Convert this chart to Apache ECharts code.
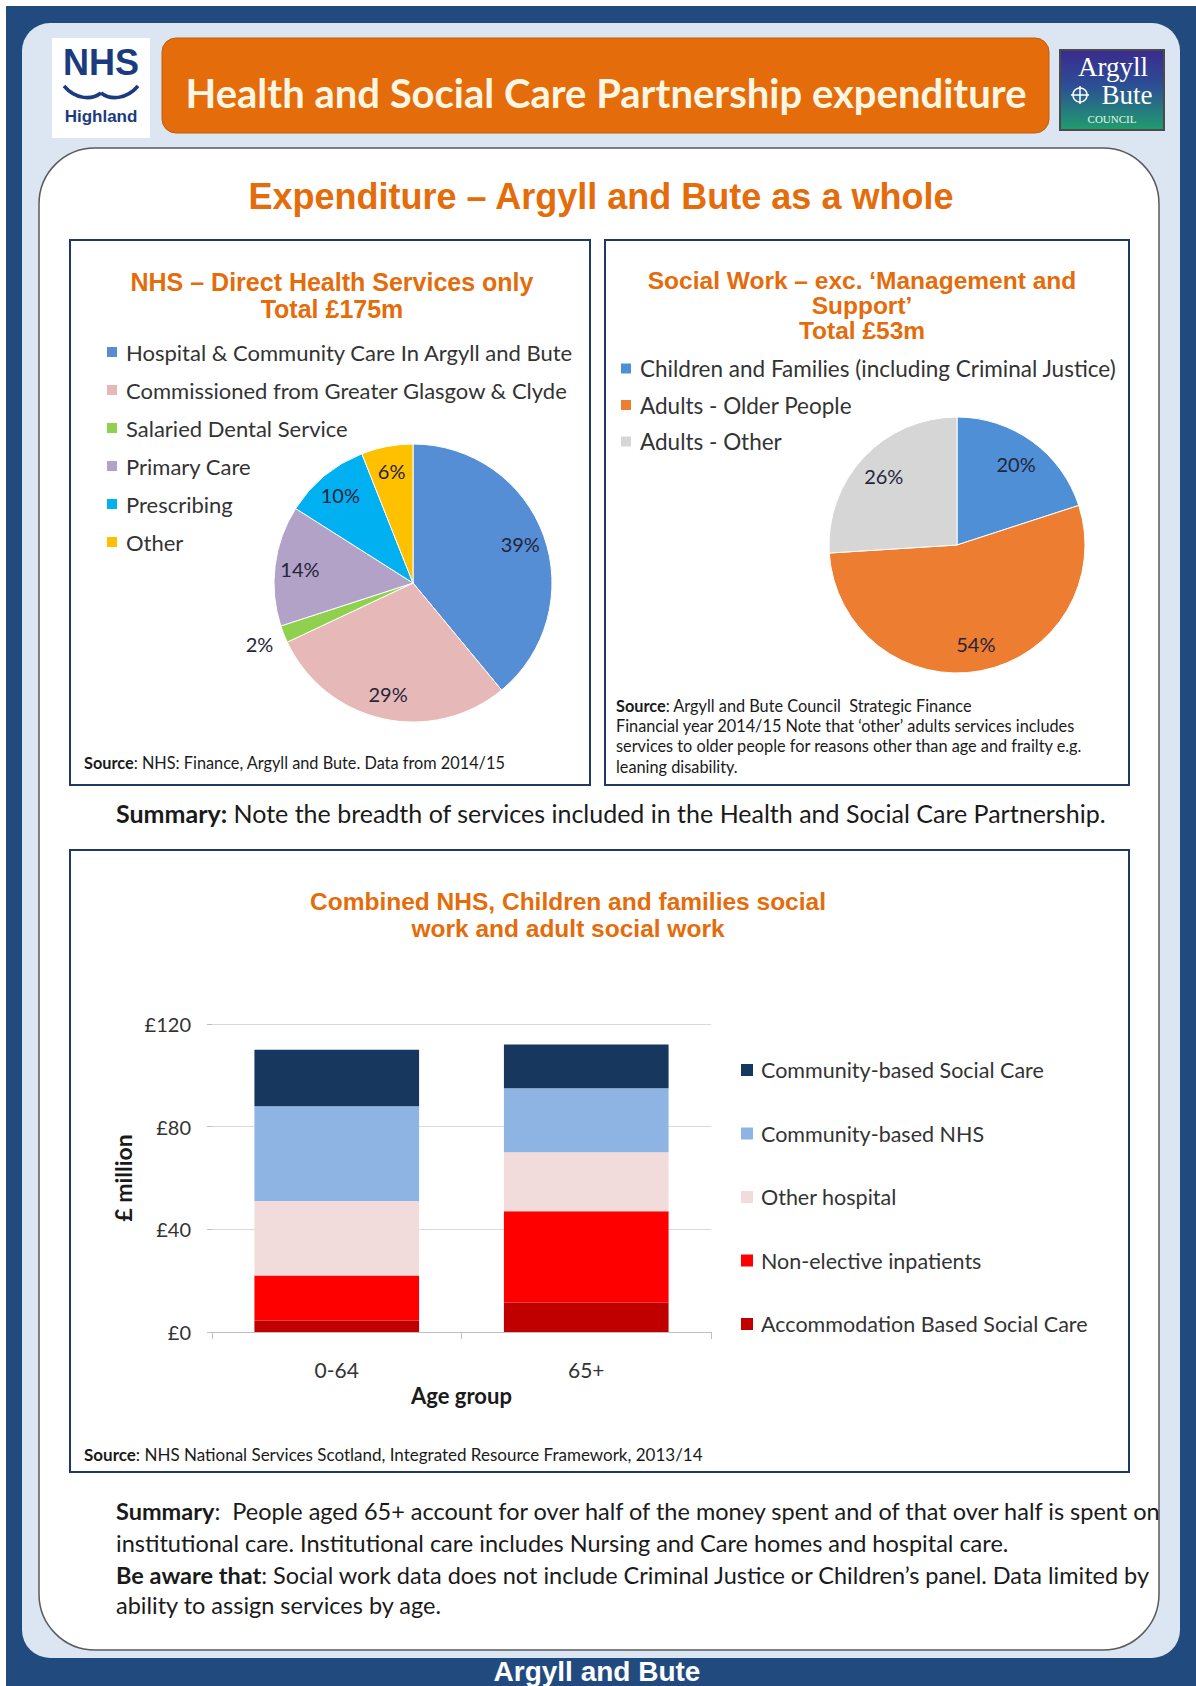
<!DOCTYPE html>
<html><head><meta charset="utf-8">
<script src="https://cdn.jsdelivr.net/npm/echarts@6/dist/echarts.min.js"></script>
<style>html,body{margin:0;padding:0;background:#fff}#c{width:1196px;height:1686px}</style>
</head><body><div id="c"></div>
<script>
// ---------- data ----------
const nhsCategories = ['Hospital & Community Care In Argyll and Bute','Commissioned from Greater Glasgow & Clyde','Salaried Dental Service','Primary Care','Prescribing','Other'];
const nhsShares = [39, 29, 2, 14, 10, 6];
const swCategories = ['Children and Families (including Criminal Justice)','Adults - Older People','Adults - Other'];
const swShares = [20, 54, 26];
const ageGroups = ['0-64', '65+'];
const accommodationSocialCare = [4.5, 11.5];
const nonElectiveInpatients = [17.5, 35.5];
const otherHospital = [29, 23];
const communityNHS = [37, 25];
const communitySocialCare = [22, 17];
const barLegendOrder = ['Community-based Social Care','Community-based NHS','Other hospital','Non-elective inpatients','Accommodation Based Social Care'];
const yTicks = [0, 40, 80, 120];

// ---------- styles ----------
const nhsColors = ['#558ed5','#e6b9b8','#8fd14f','#b3a2c7','#00b0f0','#ffc000'];
const swColors = ['#4f8fd6','#ed7d31','#d6d6d6'];
const BODY = 'Lato';
const HEAD = 'Liberation Sans';
const ORANGE = '#e46c0a';

function txt(x, y, text, o) {
  o = o || {};
  const st = Object.assign({
    text: text, x: x, y: y,
    fill: o.fill || '#1a1a1a',
    fontSize: o.size || 20, fontWeight: o.weight || 'normal', fontFamily: o.family || BODY,
    align: o.align || 'left', textAlign: o.align || 'left',
    verticalAlign: 'middle', textVerticalAlign: 'middle'
  }, o.extra || {});
  if (o.rich) st.rich = o.rich;
  return { type: 'text', z: 5, silent: true, style: st };
}
function richB(size, family) {
  return { b: { fontWeight: 'bold', fontSize: size, fontFamily: family || BODY, fill: '#1a1a1a', color: '#1a1a1a' },
           n: { fontWeight: 'normal', fontSize: size, fontFamily: family || BODY, fill: '#1a1a1a', color: '#1a1a1a' } };
}
function rect(x, y, w, h, fill, o) {
  o = o || {};
  return { type: 'rect', z: o.z != null ? o.z : 0, silent: true,
    shape: { x: x, y: y, width: w, height: h, r: o.r || 0 },
    style: { fill: fill, stroke: o.stroke || null, lineWidth: o.lw || 0 } };
}
const titleOpt = (size) => ({ size: size, weight: 'bold', family: HEAD, fill: ORANGE, align: 'center' });

const graphics = [
  rect(6, 6, 1190, 1680, '#214b7f', {z: -10}),
  rect(22, 23, 1158, 1635, '#dce6f2', {z: -9, r: 28}),
  rect(52, 38, 98, 100, '#ffffff', {z: -8}),
  rect(162, 38, 887, 95, ORANGE, {z: -8, r: 14, stroke: '#c45a08', lw: 1}),
  { type: 'rect', z: -8, silent: true, shape: { x: 1060, y: 50, width: 104, height: 80 },
    style: { fill: { type: 'linear', x: 0, y: 0, x2: 0, y2: 1, colorStops: [
      { offset: 0, color: '#3b2a8e' }, { offset: 0.45, color: '#2c4f95' }, { offset: 1, color: '#1f9e6c' }] },
      stroke: '#4a4a4a', lineWidth: 2 } },
  rect(39, 148, 1120, 1502, '#ffffff', {z: -7, r: 56, stroke: '#5a5a5a', lw: 1.5}),
  rect(70, 240, 520, 545, '#ffffff', {z: -6, stroke: '#1f3864', lw: 2}),
  rect(605, 240, 524, 545, '#ffffff', {z: -6, stroke: '#1f3864', lw: 2}),
  rect(70, 850, 1059, 622, '#ffffff', {z: -6, stroke: '#1f3864', lw: 2}),
  // NHS logo
  txt(101, 62, 'NHS', {size: 36, weight: 'bold', family: HEAD, fill: '#1b3b80', align: 'center'}),
  { type: 'bezierCurve', z: 5, silent: true, shape: { x1: 64, y1: 86, cpx1: 76, cpy1: 100, cpx2: 92, cpy2: 100, x2: 101, y2: 93 },
    style: { stroke: '#1b3b80', lineWidth: 3.5, fill: null } },
  { type: 'bezierCurve', z: 5, silent: true, shape: { x1: 101, y1: 93, cpx1: 110, cpy1: 100, cpx2: 126, cpy2: 100, x2: 138, y2: 86 },
    style: { stroke: '#1b3b80', lineWidth: 3.5, fill: null } },
  txt(101, 116, 'Highland', {size: 17, weight: 'bold', family: HEAD, fill: '#1b3b80', align: 'center'}),
  // Argyll & Bute logo
  txt(1113, 67, 'Argyll', {size: 27, family: 'Liberation Serif', fill: '#ffffff', align: 'center'}),
  txt(1127, 95, 'Bute', {size: 27, family: 'Liberation Serif', fill: '#ffffff', align: 'center'}),
  { type: 'circle', z: 5, silent: true, shape: { cx: 1080, cy: 95, r: 7 }, style: { fill: null, stroke: '#ffffff', lineWidth: 1.5 } },
  { type: 'line', z: 5, silent: true, shape: { x1: 1080, y1: 86, x2: 1080, y2: 104 }, style: { stroke: '#ffffff', lineWidth: 1.5 } },
  { type: 'line', z: 5, silent: true, shape: { x1: 1071, y1: 95, x2: 1089, y2: 95 }, style: { stroke: '#ffffff', lineWidth: 1.5 } },
  txt(1112, 119, 'COUNCIL', {size: 11, family: 'Liberation Serif', fill: '#e8f6ea', align: 'center'}),
  // headings
  txt(606, 93, 'Health and Social Care Partnership expenditure', {size: 40, weight: 'bold', fill: '#fdf6e3', align: 'center'}),
  txt(601, 196, 'Expenditure \u2013 Argyll and Bute as a whole', titleOpt(36)),
  txt(332, 282, 'NHS \u2013 Direct Health Services only', titleOpt(25)),
  txt(332, 309, 'Total \u00a3175m', titleOpt(25)),
  txt(862, 280, 'Social Work \u2013 exc. \u2018Management and', titleOpt(24.5)),
  txt(862, 305, 'Support\u2019', titleOpt(24.5)),
  txt(862, 330, 'Total \u00a353m', titleOpt(24.5)),
  txt(568, 901, 'Combined NHS, Children and families social', titleOpt(24.5)),
  txt(568, 928, 'work and adult social work', titleOpt(24.5)),
  // sources
  txt(84, 762, '{b|Source}{n|: NHS: Finance, Argyll and Bute. Data from 2014/15}', {size: 16.3, rich: richB(16.3)}),
  txt(616, 705, '{b|Source}{n|: Argyll and Bute Council  Strategic Finance}', {size: 16.3, rich: richB(16.3)}),
  txt(616, 725, 'Financial year 2014/15 Note that \u2018other\u2019 adults services includes', {size: 16.3}),
  txt(616, 745, 'services to older people for reasons other than age and frailty e.g.', {size: 16.3}),
  txt(616, 766, 'leaning disability.', {size: 16.3}),
  txt(84, 1454, '{b|Source}{n|: NHS National Services Scotland, Integrated Resource Framework, 2013/14}', {size: 17, rich: richB(17)}),
  // summaries
  txt(116, 813, '{b|Summary:}{n| Note the breadth of services included in the Health and Social Care Partnership.}', {size: 25, rich: richB(25)}),
  txt(116, 1511, '{b|Summary}{n|:  People aged 65+ account for over half of the money spent and of that over half is spent on}', {size: 23.5, rich: richB(23.5)}),
  txt(116, 1543, 'institutional care. Institutional care includes Nursing and Care homes and hospital care.', {size: 23.5}),
  txt(116, 1575, '{b|Be aware that}{n|: Social work data does not include Criminal Justice or Children\u2019s panel. Data limited by}', {size: 23.5, rich: richB(23.5)}),
  txt(116, 1605, 'ability to assign services by age.', {size: 23.5}),
  txt(597, 1671, 'Argyll and Bute', {size: 28, weight: 'bold', family: HEAD, fill: '#ffffff', align: 'center'})
];

// ---------- pies ----------
const NHS_C = [413, 583], NHS_R = 139;
const SW_C = [957, 545], SW_R = 128;
const pieLabel = { fontSize: 20, fontFamily: BODY, color: '#25253a', formatter: '{c}%' };
function pieData(names, vals, colors, labelFn) {
  return names.map((n, i) => ({ name: n, value: vals[i],
    itemStyle: { color: colors ? colors[i] : 'rgba(0,0,0,0)' },
    label: labelFn ? { show: labelFn(i) } : { show: false } }));
}
const pieCommon = { type: 'pie', startAngle: 90, clockwise: true, avoidLabelOverlap: false, silent: true,
  labelLine: { show: false }, emphasis: { disabled: true }, animation: false };

const series = [
  Object.assign({}, pieCommon, { name: 'NHS', center: NHS_C, radius: [0, NHS_R], z: 2,
    itemStyle: { borderColor: '#ffffff', borderWidth: 1 },
    data: pieData(nhsCategories, nhsShares, nhsColors, null) }),
  Object.assign({}, pieCommon, { name: 'NHS labels', center: NHS_C, radius: [Math.round(NHS_R * 0.6), NHS_R], z: 3,
    label: Object.assign({ position: 'inside' }, pieLabel), itemStyle: { borderWidth: 0 },
    data: pieData(nhsCategories, nhsShares, null, i => nhsShares[i] > 3) }),
  Object.assign({}, pieCommon, { name: 'NHS small labels', center: NHS_C, radius: [NHS_R, NHS_R + 46], z: 3,
    label: Object.assign({ position: 'inside' }, pieLabel), itemStyle: { borderWidth: 0 },
    data: pieData(nhsCategories, nhsShares, null, i => nhsShares[i] <= 3) }),
  Object.assign({}, pieCommon, { name: 'Social Work', center: SW_C, radius: [0, SW_R], z: 2,
    itemStyle: { borderColor: '#ffffff', borderWidth: 1 },
    data: pieData(swCategories, swShares, swColors, null) }),
  Object.assign({}, pieCommon, { name: 'SW labels', center: SW_C, radius: [Math.round(SW_R * 0.52), SW_R], z: 3,
    label: Object.assign({ position: 'inside' }, pieLabel), itemStyle: { borderWidth: 0 },
    data: pieData(swCategories, swShares, null, i => true) })
];

// ---------- stacked bars ----------
const barSeries = [
  ['Accommodation Based Social Care', accommodationSocialCare, '#c00000'],
  ['Non-elective inpatients', nonElectiveInpatients, '#ff0000'],
  ['Other hospital', otherHospital, '#f2dcdb'],
  ['Community-based NHS', communityNHS, '#8db4e2'],
  ['Community-based Social Care', communitySocialCare, '#17375e']
];
barSeries.forEach(([name, vals, color]) => {
  series.push({ type: 'bar', name: name, stack: 'total', data: vals, barWidth: '66%',
    itemStyle: { color: color }, silent: true, animation: false });
});

const legendText = (size) => ({ fontSize: size, fontFamily: BODY, color: '#333333', lineHeight: 20, padding: [0, 0, 0, 3] });

const option = {
  animation: false,
  graphic: { elements: graphics },
  legend: [
    { data: nhsCategories, orient: 'vertical', left: 105, top: 341, padding: 0, itemWidth: 12, itemHeight: 12,
      itemGap: 16, icon: 'rect', selectedMode: false, textStyle: legendText(22) },
    { data: swCategories, orient: 'vertical', left: 619, top: 357, padding: 0, itemWidth: 12, itemHeight: 12,
      itemGap: 13.5, icon: 'rect', selectedMode: false, textStyle: legendText(22.5) },
    { data: barLegendOrder, orient: 'vertical', left: 741, top: 1059, padding: 0, itemWidth: 12, itemHeight: 12,
      itemGap: 41.5, icon: 'rect', selectedMode: false, textStyle: legendText(21.5) }
  ],
  grid: { left: 212, top: 1024, width: 499, height: 308, containLabel: false },
  xAxis: { type: 'category', data: ageGroups,
    axisLine: { lineStyle: { color: '#bfbfbf', width: 1 } },
    axisTick: { show: true, length: 7, lineStyle: { color: '#bfbfbf' } },
    axisLabel: { margin: 27, fontSize: 21, fontFamily: BODY, color: '#333333' },
    name: 'Age group', nameLocation: 'middle', nameGap: 52,
    nameTextStyle: { fontSize: 22, fontWeight: 'bold', fontFamily: BODY, color: '#1a1a1a' } },
  yAxis: { type: 'value', min: yTicks[0], max: yTicks[yTicks.length - 1], interval: yTicks[1] - yTicks[0],
    axisLine: { show: false },
    axisTick: { show: true, length: 5, lineStyle: { color: '#bfbfbf' } },
    splitLine: { lineStyle: { color: '#d9d9d9' } },
    axisLabel: { margin: 21, fontSize: 20, fontFamily: BODY, color: '#333333', formatter: v => '\u00a3' + v },
    name: '\u00a3 million', nameLocation: 'middle', nameGap: 78, nameRotate: 90,
    nameTextStyle: { fontSize: 23, fontWeight: 'bold', fontFamily: BODY, color: '#1a1a1a' } },
  series: series
};

const chart = echarts.init(document.getElementById('c'), null, { renderer: 'svg' });
chart.setOption(option);
</script>
</body></html>
